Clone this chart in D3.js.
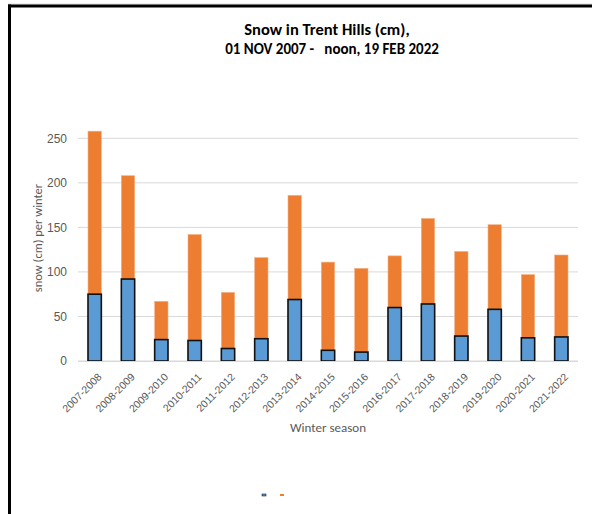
<!DOCTYPE html>
<html><head><meta charset="utf-8">
<script src="https://cdn.jsdelivr.net/npm/d3@7"></script>
<style>body{margin:0;background:#fff;}svg{display:block;font-family:Carlito,"Open Sans","Liberation Sans",sans-serif;}</style>
</head><body>
<script>
const seasons = ["2007-2008","2008-2009","2009-2010","2010-2011","2011-2012","2012-2013","2013-2014","2014-2015","2015-2016","2016-2017","2017-2018","2018-2019","2019-2020","2020-2021","2021-2022"];
const totalSnow = [258, 208, 67, 142, 77, 116, 186, 111, 104, 118, 160, 123, 153, 97, 119];
const partSnow  = [75, 92, 24, 23, 14, 25, 69, 12, 10, 60, 64, 28, 58, 26, 27];
const yTicks = [0, 50, 100, 150, 200, 250];

const W = 592, H = 514;
const svg = d3.select("body").append("svg").attr("width", W).attr("height", H);

// frame
svg.append("line").attr("x1",8).attr("x2",W).attr("y1",4).attr("y2",4).attr("stroke","#d9d9d9").attr("stroke-width",1);
svg.append("line").attr("x1",8).attr("x2",W).attr("y1",6).attr("y2",6).attr("stroke","#000").attr("stroke-width",3);
svg.append("line").attr("x1",9.5).attr("x2",9.5).attr("y1",4.5).attr("y2",H).attr("stroke","#000").attr("stroke-width",3);

const x = d3.scaleBand().domain(seasons).range([78, 578]).paddingInner(0.6).paddingOuter(0.3);
const y = d3.scaleLinear().domain([0, 250]).range([361, 138.3]);

// gridlines
svg.append("g").selectAll("line").data(yTicks).join("line")
  .attr("x1",78).attr("x2",578).attr("y1",d=>y(d)).attr("y2",d=>y(d))
  .attr("stroke","#d9d9d9").attr("stroke-width",1);

// y axis labels
const yAxis = d3.axisLeft(y).tickValues(yTicks).tickSize(0).tickPadding(11);
const gy = svg.append("g").attr("transform","translate(78,0)").call(yAxis);
gy.select(".domain").remove();
gy.selectAll("text").attr("fill","#595959").style("font-size","12px");

// bars
const bw = x.bandwidth();
svg.append("g").selectAll("rect").data(seasons).join("rect")
  .attr("x", d=>x(d)).attr("width", bw)
  .attr("y", (d,i)=>y(totalSnow[i])).attr("height",(d,i)=>y(0)-y(totalSnow[i]))
  .attr("fill","#ED7D31").attr("stroke","#f4b183").attr("stroke-width",0.6);
svg.append("g").selectAll("rect").data(seasons).join("rect")
  .attr("x", d=>x(d)).attr("width", bw)
  .attr("y", (d,i)=>y(partSnow[i])).attr("height",(d,i)=>y(0)-y(partSnow[i]))
  .attr("fill","#5B9BD5").attr("stroke","#111").attr("stroke-width",1.6);

// baseline
svg.append("line").attr("x1",78).attr("x2",578).attr("y1",y(0)+0.5).attr("y2",y(0)+0.5).attr("stroke","#d9d9d9");

// x axis labels
const xAxis = d3.axisBottom(x).tickSize(0).tickPadding(0);
const gx = svg.append("g").attr("transform",`translate(0,${y(0)})`).call(xAxis);
gx.select(".domain").remove();
gx.selectAll(".tick text").attr("fill","#595959").style("font-size","10.5px")
  .attr("text-anchor","end").attr("y",0).attr("dy","0.35em")
  .attr("transform","translate(5,14) rotate(-45)");

// axis titles
svg.append("text").attr("x",328).attr("y",432).attr("text-anchor","middle")
  .attr("fill","#595959").style("font-size","13px").text("Winter season");
svg.append("text").attr("transform","translate(42,238) rotate(-90)").attr("text-anchor","middle")
  .attr("fill","#595959").style("font-size","12.5px").text("snow (cm) per winter");

// title
svg.append("text").attr("x",327).attr("y",35).attr("text-anchor","middle")
  .attr("fill","#000").style("font-size","16.5px").style("font-weight","bold").text("Snow in Trent Hills (cm),");
svg.append("text").attr("x",332).attr("y",54).attr("text-anchor","middle").attr("xml:space","preserve")
  .attr("fill","#000").style("font-size","15px").style("font-weight","bold").style("white-space","pre").text("01 NOV 2007 -   noon, 19 FEB 2022");

// tiny legend remnants
const legendColors = ["#5B9BD5","#ED7D31"];
svg.append("g").selectAll("rect").data(legendColors).join("rect")
  .attr("x",(d,i)=>i? 280 : 262).attr("y",494).attr("width",4).attr("height",2)
  .attr("fill",d=>d).attr("stroke",(d,i)=>i? "none":"#000").attr("stroke-width",0.5);
</script>
</body></html>
